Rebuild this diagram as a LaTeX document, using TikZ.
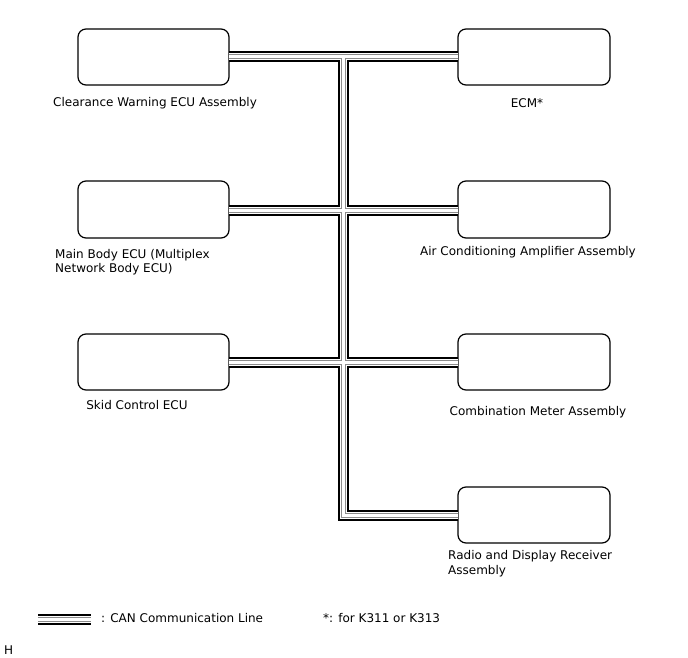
\documentclass[tikz,border=0pt]{standalone}
\usepackage{fontspec}
\setmainfont{DejaVu Sans}
\begin{document}
\begin{tikzpicture}[x=1pt,y=-1pt,
  ecubox/.style={draw,line width=1.2pt,rounded corners=8pt},
  lbl/.style={font=\fontsize{12}{14.5}\selectfont,inner sep=0pt},
  lbll/.style={lbl,anchor=west,align=left},
]
\useasboundingbox (0,0) rectangle (688,658);
% boxes
\draw[ecubox] (78,29) rectangle (229,85); \coordinate (cw) at (229,57);
\draw[ecubox] (458,29) rectangle (610,85); \coordinate (ecm) at (458,57);
\draw[ecubox] (78,181) rectangle (229,238); \coordinate (mb) at (229,210);
\draw[ecubox] (458,181) rectangle (610,238); \coordinate (ac) at (458,210);
\draw[ecubox] (78,334) rectangle (229,390); \coordinate (sk) at (229,362);
\draw[ecubox] (458,334) rectangle (610,390); \coordinate (cm) at (458,362);
\draw[ecubox] (458,487) rectangle (610,543); \coordinate (rd) at (458,515);
\coordinate (t1) at (343.5,57);
\coordinate (t4) at (343.5,515);
\coordinate (l1) at (38,619);
\coordinate (l2) at (91,619);
% cable layers
\foreach \w/\c in {11/black,7/white,5/black!45,3/white}{
  \draw[line width=\w pt,\c] (cw) -- (ecm);
  \draw[line width=\w pt,\c] (t1) -- (t4) -- (rd);
  \draw[line width=\w pt,\c] (mb) -- (ac);
  \draw[line width=\w pt,\c] (sk) -- (cm);
  \draw[line width=\w pt,\c] (l1) -- (l2);
}
% labels
\node[lbl] (tcw) at (155,103) {Clearance Warning ECU Assembly};
\node[lbl] (tecm) at (527,103) {ECM*};
\node[lbll] (tmb) at (55,262) {Main Body ECU (Multiplex\\Network Body ECU)};
\node[lbl] (tac) at (528,252) {Air Conditioning Amplifier Assembly};
\node[lbl] (tsk) at (137,405) {Skid Control ECU};
\node[lbl] (tcm) at (538,412) {Combination Meter Assembly};
\node[lbll] (trd) at (448,563.5) {Radio and Display Receiver\\Assembly};
\node[lbl,anchor=west] (tleg) at (101,618) {: CAN Communication Line};
\node[lbl,anchor=west] (tnote) at (323,618) {*: for K311 or K313};
\node[lbl,anchor=west] (th) at (4,650) {H};
\end{tikzpicture}
\end{document}
